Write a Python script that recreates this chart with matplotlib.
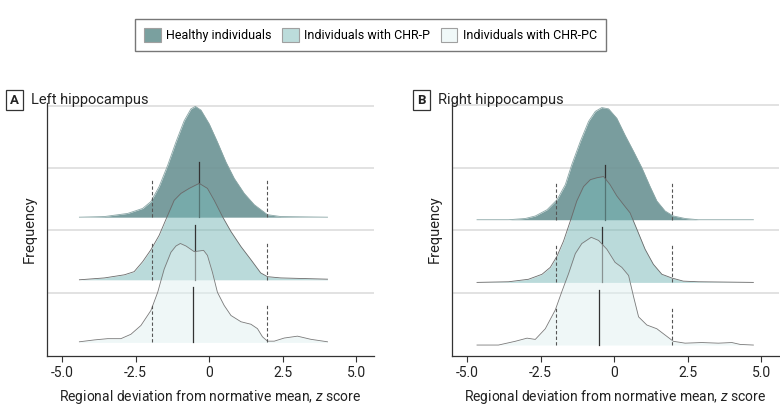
import matplotlib
matplotlib.use("Agg")
import matplotlib.pyplot as plt
from matplotlib.patches import Patch, Rectangle

plt.rcParams["font.family"] = ["Roboto", "DejaVu Sans"]
plt.rcParams["axes.unicode_minus"] = False
plt.rcParams["mathtext.fontset"] = "custom"
plt.rcParams["mathtext.it"] = "Roboto:italic"

# group names (top ridge first)
groups = ["Healthy individuals", "Individuals with CHR-P", "Individuals with CHR-PC"]

x_ticks = [-5.0, -2.5, 0, 2.5, 5.0]
x_tick_labels = ["-5.0", "-2.5", "0", "2.5", "5.0"]

# --- left hippocampus, density curves ---
left_healthy_x = [-4.41, -3.56, -2.77, -2.26, -1.98, -1.70, -1.41, -1.13, -0.85, -0.62, -0.47,
                  -0.28, 0.0, 0.28, 0.57, 0.85, 1.19, 1.53, 1.98, 2.43, 4.02]
left_healthy_y = [0.0, 0.01, 0.06, 0.14, 0.25, 0.49, 0.83, 1.20, 1.54, 1.73, 1.77,
                  1.71, 1.49, 1.20, 0.88, 0.62, 0.38, 0.20, 0.04, 0.01, 0.0]

left_chrp_x = [-4.41, -3.56, -2.88, -2.55, -2.26, -1.98, -1.70, -1.41, -1.19, -0.96, -0.68,
               -0.34, -0.06, 0.17, 0.45, 0.74, 1.08, 1.42, 1.75, 1.98, 2.43, 4.02]
left_chrp_y = [0.0, 0.03, 0.08, 0.13, 0.29, 0.48, 0.71, 1.03, 1.27, 1.38, 1.46,
               1.54, 1.46, 1.27, 1.01, 0.77, 0.53, 0.32, 0.11, 0.05, 0.03, 0.01]

left_chrpc_x = [-4.41, -3.90, -3.45, -3.00, -2.66, -2.32, -1.98, -1.75, -1.53, -1.30, -1.13,
                -0.98, -0.79, -0.51, -0.19, -0.06, 0.11, 0.28, 0.51, 0.74, 1.08, 1.42,
                1.64, 1.81, 1.98, 2.21, 2.55, 3.00, 3.45, 4.02]
left_chrpc_y = [0.01, 0.04, 0.06, 0.06, 0.13, 0.27, 0.51, 0.80, 1.17, 1.44, 1.54,
                1.58, 1.54, 1.45, 1.47, 1.39, 1.12, 0.80, 0.59, 0.43, 0.33, 0.29,
                0.22, 0.09, 0.02, 0.02, 0.07, 0.10, 0.05, 0.01]

left_medians = [-0.35, -0.47, -0.54]

# --- right hippocampus ---
right_healthy_x = [-4.66, -3.59, -3.02, -2.68, -2.28, -1.94, -1.66, -1.44, -1.15, -0.87, -0.64,
                   -0.42, -0.19, 0.09, 0.37, 0.66, 0.94, 1.22, 1.45, 1.73, 2.01, 2.41, 2.86, 4.73]
right_healthy_y = [0.0, 0.0, 0.02, 0.06, 0.16, 0.32, 0.56, 0.88, 1.25, 1.57, 1.73,
                   1.79, 1.77, 1.62, 1.35, 1.09, 0.83, 0.53, 0.30, 0.14, 0.06, 0.02, 0.0, 0.0]

right_chrp_x = [-4.66, -3.59, -2.91, -2.45, -2.17, -1.94, -1.72, -1.49, -1.27, -1.04, -0.81,
                -0.59, -0.36, -0.14, 0.09, 0.32, 0.54, 0.77, 1.05, 1.33, 1.62, 1.96, 2.35,
                2.86, 4.73]
right_chrp_y = [0.0, 0.01, 0.05, 0.13, 0.24, 0.42, 0.66, 0.98, 1.30, 1.53, 1.64,
                1.67, 1.69, 1.56, 1.38, 1.24, 1.11, 0.85, 0.53, 0.29, 0.13, 0.07, 0.02,
                0.01, 0.0]

right_chrpc_x = [-4.66, -3.93, -3.36, -2.96, -2.68, -2.34, -2.00, -1.78, -1.55, -1.32, -1.10,
                 -0.78, -0.53, -0.25, 0.03, 0.26, 0.49, 0.66, 0.83, 1.11, 1.45, 1.73, 2.01,
                 2.41, 2.98, 3.54, 4.00, 4.28, 4.73]
right_chrpc_y = [0.0, 0.0, 0.06, 0.11, 0.09, 0.26, 0.56, 0.85, 1.14, 1.46, 1.62,
                 1.72, 1.67, 1.53, 1.32, 1.24, 1.11, 0.77, 0.45, 0.32, 0.26, 0.16, 0.06,
                 0.03, 0.04, 0.03, 0.04, 0.01, 0.0]

right_medians = [-0.31, -0.43, -0.53]

cutoffs = [-1.96, 1.96]

fill_colors = ["#6b9394", "#76b7b6", "#e0f1f1"]
fill_alphas = [0.9, 0.5, 0.5]
edge_colors = ["#8aa6a6", "#6a6a6a", "#7a7a7a"]
legend_colors = ["#7aa09f", "#bcdcdb", "#f0f8f8"]


def draw_panel(ax, curves, medians, baselines, grid_at, ylim, letter, title, letter_x):
    for i, (xs, ys) in enumerate(curves):
        base = baselines[i]
        z = 2 + i * 2
        top = [base + v for v in ys]
        ax.fill_between(xs, base, top, color=fill_colors[i], alpha=fill_alphas[i],
                        lw=0, zorder=z)
        ax.plot(xs, top, color=edge_colors[i], lw=0.6, zorder=z + 0.5)
        ax.plot([medians[i], medians[i]], [base, base + 0.88], color="#333333",
                lw=0.9, zorder=z + 0.6)
        for c in cutoffs:
            ax.plot([c, c], [base, base + 0.6], color="#555555", lw=0.8,
                    dashes=(3, 2), zorder=z + 0.6)
    ax.set_xlim(-5.52, 5.6)
    ax.set_ylim(*ylim)
    ax.set_yticks(grid_at)
    ax.set_yticklabels([])
    ax.tick_params(axis="y", length=0)
    ax.grid(axis="y", color="#e2e2e2", lw=1.4)
    ax.set_axisbelow(True)
    ax.set_xticks(x_ticks)
    ax.set_xticklabels(x_tick_labels, fontsize=10, color="#222222")
    ax.tick_params(axis="x", length=4, width=0.8, color="#333333", pad=3)
    for s in ["top", "right"]:
        ax.spines[s].set_visible(False)
    for s in ["left", "bottom"]:
        ax.spines[s].set_color("#333333")
        ax.spines[s].set_linewidth(0.9)
    ax.set_xlabel("Regional deviation from normative mean, $\\it{z}$ score",
                  fontsize=10, color="#222222", labelpad=6)
    ax.set_ylabel("Frequency", fontsize=10.5, color="#222222", labelpad=4)
    fig = ax.figure
    fig.patches.append(Rectangle((letter_x, 0.733), 0.021, 0.047, transform=fig.transFigure,
                                 fill=False, ec="#333333", lw=0.9))
    fig.text(letter_x + 0.0105, 0.756, letter, ha="center", va="center",
             fontsize=9.5, fontweight="bold", color="#222222")
    fig.text(letter_x + 0.032, 0.756, title, ha="left", va="center",
             fontsize=10.5, color="#222222")


fig = plt.figure(figsize=(7.8, 4.11), dpi=100)
ax1 = fig.add_axes([0.0599, 0.1338, 0.4196, 0.6166])
ax2 = fig.add_axes([0.5791, 0.1338, 0.4196, 0.6166])

draw_panel(ax1,
           [(left_healthy_x, left_healthy_y), (left_chrp_x, left_chrp_y),
            (left_chrpc_x, left_chrpc_y)],
           left_medians, [2, 1, 0], [0.79, 1.79, 2.78, 3.78], (-0.217, 3.83),
           "A", "Left hippocampus", 0.008)
draw_panel(ax2,
           [(right_healthy_x, right_healthy_y), (right_chrp_x, right_chrp_y),
            (right_chrpc_x, right_chrpc_y)],
           right_medians, [2, 1, 0], [0.83, 1.83, 2.82, 3.83], (-0.175, 3.87),
           "B", "Right hippocampus", 0.53)

handles = [Patch(facecolor=c, edgecolor="#a0a0a0", lw=0.8) for c in legend_colors]
leg = fig.legend(handles, groups, loc="upper center", bbox_to_anchor=(0.475, 0.97),
                 ncol=3, frameon=True, fancybox=False, fontsize=9,
                 handlelength=1.3, handleheight=1.3, handletextpad=0.45,
                 columnspacing=0.85, borderpad=0.75)
leg.get_frame().set_edgecolor("#555555")
leg.get_frame().set_linewidth(1.0)

fig.savefig("out.png", dpi=100)
